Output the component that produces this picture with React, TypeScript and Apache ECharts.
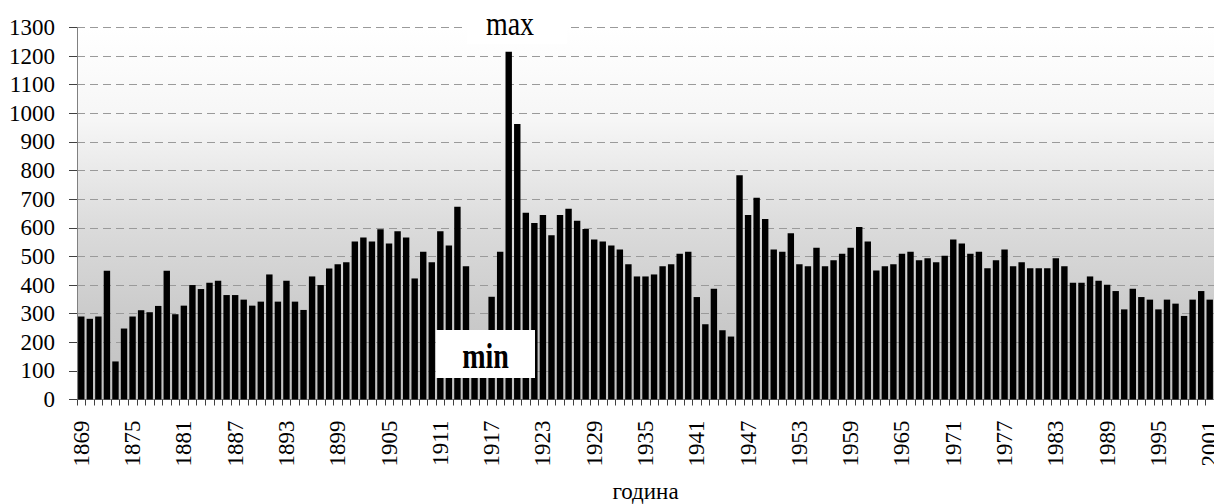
import React, { useEffect, useRef } from "react";
import * as echarts from "echarts";

const startYear = 1869;
const endYear = 2001;
const years: string[] = [];
for (let y = startYear; y <= endYear; y++) years.push(String(y));

// values 1869–1914
const values1869to1914 = [
  290, 282, 290, 450, 133, 248, 290, 312, 305, 327,
  450, 298, 328, 400, 386, 408, 415, 365, 365, 349,
  328, 342, 437, 342, 415, 342, 313, 430, 400, 458,
  473, 480, 552, 566, 552, 595, 545, 588, 566, 423,
  516, 480, 588, 538, 674, 466,
];
// 1915–1916 (largely hidden behind the "min" box)
const values1915to1916 = [110, 100];
// 1917–1955
const values1917to1955 = [
  359, 516, 1215, 963, 653, 617, 645, 574, 645, 667,
  625, 596, 559, 552, 538, 524, 473, 430, 430, 437,
  466, 473, 509, 516, 358, 263, 387, 242, 220, 784,
  645, 705, 631, 524, 516, 581, 473, 466, 530,
];
// 1956–2001
const values1956to2001 = [
  466, 487, 509, 530, 603, 552, 451, 466, 473, 509,
  516, 487, 494, 480, 502, 559, 545, 509, 516, 459,
  487, 524, 466, 480, 459, 459, 459, 494, 466, 408,
  408, 430, 415, 401, 379, 315, 387, 358, 349, 315,
  349, 335, 292, 349, 379, 349,
];
const values = [
  ...values1869to1914,
  ...values1915to1916,
  ...values1917to1955,
  ...values1956to2001,
];

const yTicks = { min: 0, max: 1300, interval: 100 };
const xTitle = "година";
const maxLabel = "max";
const minLabel = "min";

const FONT = "Liberation Serif";

export default function App() {
  const ref = useRef<HTMLDivElement>(null);
  useEffect(() => {
    if (!ref.current) return;
    const chart = echarts.init(ref.current, undefined, { renderer: "svg" });
    chart.setOption({
      animation: false,
      backgroundColor: "#ffffff",
      textStyle: { fontFamily: FONT },
      grid: {
        left: 77,
        right: 0,
        top: 27.5,
        bottom: 104.5,
        containLabel: false,
        outerBoundsMode: "none",
        show: true,
        borderWidth: 0,
        backgroundColor: new echarts.graphic.LinearGradient(0, 0, 0, 1, [
          { offset: 0, color: "#ffffff" },
          { offset: 0.25, color: "#f6f6f6" },
          { offset: 0.55, color: "#dadada" },
          { offset: 0.8, color: "#c9c9c9" },
          { offset: 1, color: "#c2c2c2" },
        ]),
      },
      xAxis: {
        type: "category",
        data: years,
        name: xTitle,
        nameLocation: "middle",
        nameGap: 80,
        nameTextStyle: { fontFamily: FONT, fontSize: 23, color: "#000" },
        axisLine: { lineStyle: { color: "#808080", width: 1 } },
        axisTick: {
          show: true,
          interval: 0,
          length: 6,
          lineStyle: { color: "#404040" },
        },
        axisLabel: {
          interval: 5,
          rotate: 90,
          margin: 21,
          padding: [0, 0, 6, 0],
          fontFamily: FONT,
          fontSize: 23,
          color: "#000",
        },
        splitLine: { show: false },
      },
      yAxis: {
        type: "value",
        min: yTicks.min,
        max: yTicks.max,
        interval: yTicks.interval,
        axisLine: { show: true, lineStyle: { color: "#808080", width: 1 } },
        axisTick: { show: true, length: 8, lineStyle: { color: "#404040" } },
        axisLabel: {
          margin: 22,
          padding: [0, 0, 4, 0],
          fontFamily: FONT,
          fontSize: 23,
          color: "#000",
          formatter: (v: number) => String(v),
        },
        splitLine: {
          show: true,
          lineStyle: { color: "#9a9a9a", type: [8, 5], width: 1 },
        },
      },
      series: [
        {
          type: "bar",
          data: values,
          barCategoryGap: "25%",
          itemStyle: { color: "#000000" },
        },
      ],
      graphic: [
        {
          type: "rect",
          shape: { x: 467, y: 11, width: 100, height: 33 },
          style: { fill: "#ffffff" },
          z: 100,
        },
        {
          type: "text",
          x: 510,
          y: 24,
          scaleY: 1.2,
          style: {
            text: maxLabel,
            fontFamily: FONT,
            fontSize: 28,
            fill: "#000",
            align: "center",
            verticalAlign: "middle",
          },
          z: 101,
        },
        {
          type: "rect",
          shape: { x: 436, y: 330, width: 99, height: 48 },
          style: { fill: "#ffffff" },
          z: 100,
        },
        {
          type: "text",
          x: 485.5,
          y: 356.5,
          scaleY: 1.25,
          style: {
            text: minLabel,
            fontFamily: FONT,
            fontSize: 28,
            fontWeight: "bold",
            fill: "#000",
            align: "center",
            verticalAlign: "middle",
          },
          z: 101,
        },
      ],
    });
    return () => chart.dispose();
  }, []);
  return (
    <div
      ref={ref}
      style={{ position: "fixed", left: 0, top: 0, width: 1214, height: 504 }}
    />
  );
}
